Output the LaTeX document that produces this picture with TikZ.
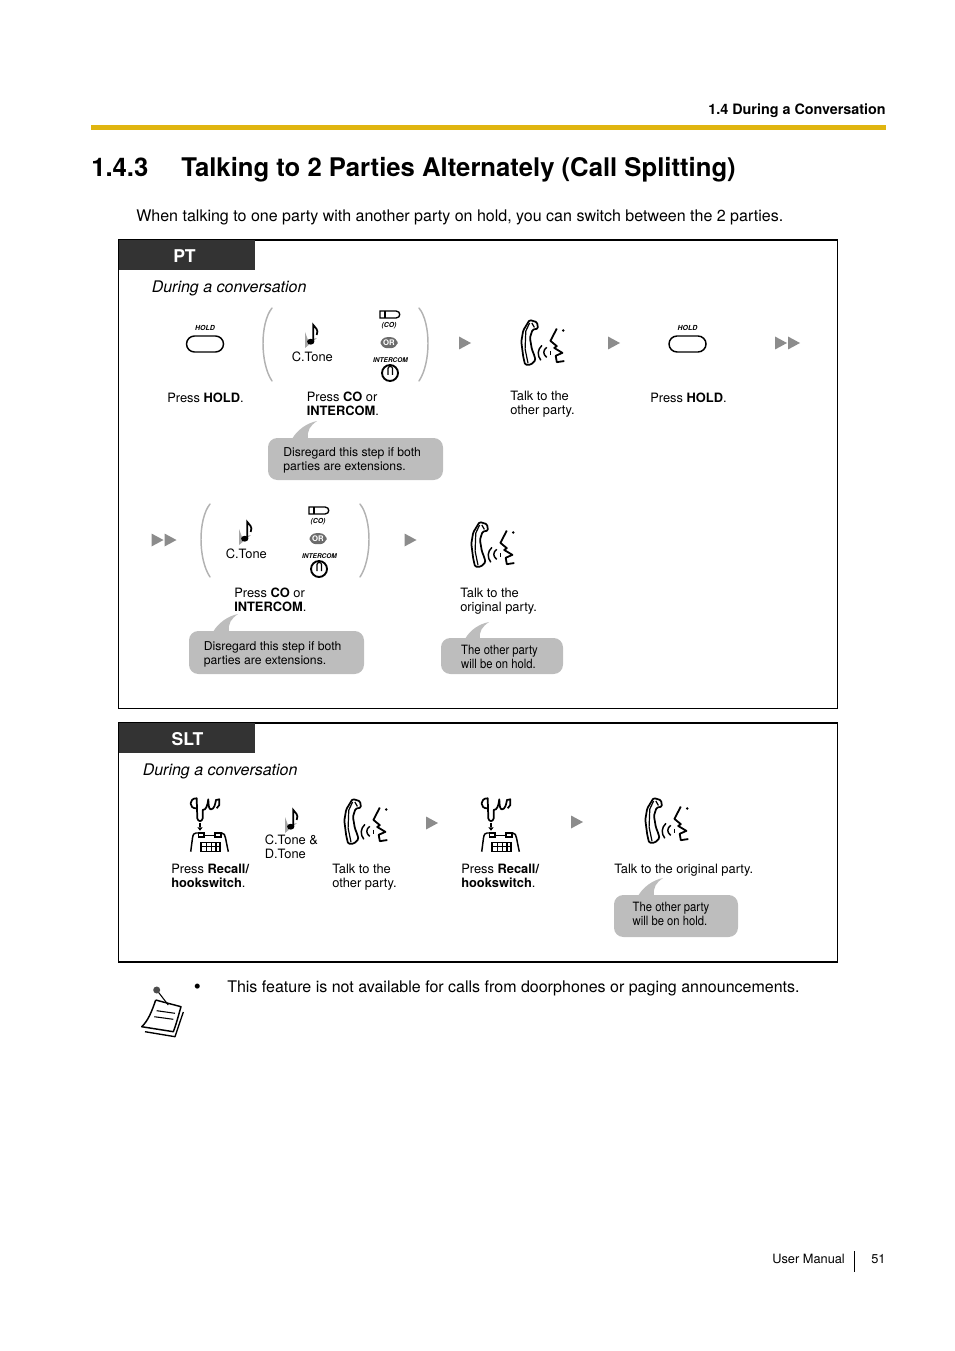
\documentclass[tikz,border=0pt]{standalone}
\usepackage{fontspec}
\setmainfont{TeX Gyre Heros}
\definecolor{rulegold}{HTML}{E0B510}
\definecolor{hdrgray}{HTML}{333333}
\definecolor{bubblegray}{HTML}{BDBDBD}
\definecolor{tipgray}{HTML}{8C8C8C}
\newcommand{\fs}[1]{\fontsize{#1}{#1}\selectfont}
\tikzset{
    lbl/.style={anchor=north west,inner sep=0pt,align=left,yshift=7.35pt,
        font=\fontsize{9.65}{10.5}\selectfont,execute at begin node=\strut},
    txt/.style={anchor=base west,inner sep=0pt},
    note/.style={anchor=north west,inner sep=0pt,align=left,yshift=7.35pt,
        font=\fontsize{9.15}{10.5}\selectfont,execute at begin node=\strut},
    notenarrow/.style={note,xscale=0.88,font=\fontsize{9.6}{10.5}\selectfont},
    keyicon/.style={line width=1.1pt,black},
    % Steps
    pics/holdkey/.style={code={
        \node[inner sep=0pt,font=\fs{5.2}\bfseries\itshape] (holdtag) at (0,-16) {HOLD};
        \draw[keyicon,rounded corners=6pt] (-18.5,-8) rectangle (18.5,8);
    }},
    pics/tip/.style={code={
        \fill[tipgray] (-6,-6.5) -- (6,0) -- (-6,6.5) -- cycle;
    }},
    pics/dtip/.style={code={
        \fill[tipgray] (-12.5,-6.5) -- (-0.5,0) -- (-12.5,6.5) -- cycle;
        \fill[tipgray] (0.5,-6.5) -- (12.5,0) -- (0.5,6.5) -- cycle;
    }},
    pics/tone/.style={code={
        \fill[gray!70] (-7,-3) -- (-4,5) -- (5,3) -- (-7,13) -- cycle;
        \draw[line width=1.3pt] (1.3,6.7) -- (1.3,-10) .. controls (3,-7) and (7,-6) .. (4.7,0);
        \fill (-1.3,6.7) ellipse (3.6 and 2.9);
    }},
    pics/lines/.style={code={
        \draw[line width=1.1pt,gray!60,line cap=round] (0,-37) .. controls (-12,-22) and (-12,18) .. (0,36);
    }},
    pics/linesr/.style={code={
        \draw[line width=1.1pt,gray!60,line cap=round] (0,-37) .. controls (12,-22) and (12,18) .. (0,36);
    }},
    pics/cokey/.style={code={
        \draw[keyicon,line width=1pt] (-9,-31) -- (7,-31) .. controls (12,-31) and (12,-24) .. (7,-24) -- (-9,-24) -- cycle;
        \draw[line width=0.8pt] (-4,-31) -- (-4,-24);
        \node[inner sep=0pt,font=\fs{5.2}\itshape\bfseries] (cotag) at (0,-16) {(CO)};
        \fill[gray!85!black,rounded corners=5pt] (-8.5,-4.8) rectangle (8.5,6.2);
        \node[inner sep=0pt,font=\fs{5.8}\bfseries,text=white] (ortag) at (0,0.8) {OR};
        \node[inner sep=0pt,font=\fs{4.9}\bfseries\itshape] (intag) at (1.5,18) {INTERCOM};
        \draw[line width=1.4pt] (1,31) circle (8);
        \draw[line width=0.9pt,rounded corners=1.5pt] (-1,33) -- (-1,24.5) -- (3.5,24.5) -- (3.5,33);
    }},
    pics/talk/.style={code={
        \begin{scope}[scale=1.12]
        \draw[line width=1.3pt,line join=round,rounded corners=1pt] (-9.3,-19.7) -- (-2.7,-17.7) -- (-1.7,-12) -- (-6.7,-11)
            -- (-9,-3.7) -- (-7.3,6.3) -- (-5,12.3) -- (-4,16.3) -- (-8.3,20.3) -- (-13.3,20.3)
            -- (-15,13) -- (-16.7,-0.3) -- (-15,-10.3) -- cycle;
        \draw[line width=0.9pt] (-9.3,-17) -- (-12.7,-9.7) -- (-13.3,6.3) -- (-10.7,19);
        \draw[line width=0.9pt] (-7.3,-17) -- (-5,-13);
        \draw[line width=1.35pt,line join=round] (15,-12) -- (9.3,-1) -- (15,3.7) -- (12.7,5.3)
            -- (20,9.7) -- (14,12.3) -- (15,18) -- (21.7,17);
        \fill (20.7,-10.3) circle (1.2);
        \draw[line width=1.1pt] (1.7,3) .. controls (-2.5,7) and (-2.5,12) .. (0.7,16.3);
        \draw[line width=1.1pt] (6,4.7) .. controls (2.5,7.5) and (2.5,11) .. (6,13.7);
        \draw[line width=1.1pt] (9.3,8) -- (9.3,11.3);
        \end{scope}
    }},
    pics/hook/.style={code={
        \draw[line width=1.3pt,line join=round] (-3.3,-19.7) .. controls (-11.5,-19) and (-11.5,-30) .. (-3.3,-29.7)
            -- (-2.7,-9.7) .. controls (-2,-6) and (2,-6) .. (2.7,-9.7) -- (2.7,-18)
            .. controls (6,-18) and (7.5,-22) .. (8.3,-28.7) .. controls (8.5,-22) and (9,-18.7) .. (11,-18.7)
            .. controls (14,-18.7) and (15,-23) .. (16,-28) -- (19.3,-28.7) -- (19.3,-23) -- (16.7,-19.7);
        \draw[line width=1.2pt] (0,-5.3) -- (0,-0.7);
        \fill (-2.7,-0.7) -- (2.7,-0.7) -- (0,2.7) -- cycle;
        \draw[line width=1.1pt,line join=round] (-9.3,23.7) -- (-7.5,10) .. controls (-7,6.5) and (-6,5) .. (-4,5) -- (4,5);
        \draw[line width=1.1pt,line join=round] (15,5) -- (21.7,5) .. controls (24,5) and (25,7) .. (25.5,10) -- (28.3,23.7);
        \draw[line width=1.1pt] (-1.7,5) rectangle (4,9) (4,7.5) -- (15,7.5) (15,5) rectangle (21,9);
        \draw[line width=0.8pt] (1,14.7) rectangle (20,23.7) (1,18.7) -- (20,18.7)
            (6.7,14.7) -- (6.7,23.7) (11.7,14.7) -- (11.7,23.7) (16,14.7) -- (16,23.7);
    }},
}
% Grey note with its tail: left, top, right, bottom, tail x, tail y
\newcommand{\bubble}[6]{
    \fill[bubblegray,rounded corners=7pt] (#1,#2) rectangle (#3,#4);
    \fill[bubblegray] (#1+24,#2+1) .. controls (#1+29,#2-8) and (#5-10,#6+2) .. (#5,#6)
        .. controls (#5-7,#6+5) and (#5-10,#6+9) .. (#5-9,#2+1) -- cycle;
}

\begin{document}
\begin{tikzpicture}[x=0.75pt,y=-0.75pt]
    \useasboundingbox (0,0) rectangle (954,1351);

    % Page head
    \node[txt,anchor=base east,font=\fs{10.76}\bfseries] (sectionhead) at (886,114.5) {1.4 During a Conversation};
    \fill[rulegold] (91,125) rectangle (886,130);
    \node[txt,font=\fs{19.26}\bfseries] (titlenum) at (91,176.7) {1.4.3};
    \node[txt,font=\fs{19.26}\bfseries] (titletext) at (181,176.7) {Talking to 2 Parties Alternately (Call Splitting)};
    \node[txt,font=\fs{12.02}] (intro) at (136,222) {When talking to one party with another party on hold, you can switch between the 2 parties.};

    % PT frame
    \draw[line width=1.1pt] (118.5,240) rectangle (837.5,708.5);
    \fill[hdrgray] (119,240) rectangle (255,270);
    \node[font=\fs{13.2}\bfseries,text=white,inner sep=0pt] (pttag) at (184.5,256) {PT};
    \node[txt,font=\fs{12}\itshape] (ptduring) at (151.5,292.5) {During a conversation};

    % First row
    \pic at (205,344) {holdkey};
    \node[lbl] (presshold) at (167,402) {Press \textbf{HOLD}.};
    \pic at (272,345) {lines};
    \pic at (312,335) {tone};
    \node[txt,font=\fs{9.65}] (ctone) at (291.5,361.5) {C.Tone};
    \pic at (389,342) {cokey};
    \pic at (419,345) {linesr};
    \node[lbl] (pressco) at (306.5,401.5) {Press \textbf{CO} or\\\textbf{INTERCOM}.};
    \bubble{268}{438}{443}{480}{317}{421}
    \node[note] (skip) at (283,457) {Disregard this step if both\\parties are extensions.};
    \pic at (465,343) {tip};
    \pic at (540,342) {talk};
    \node[lbl] (talkother) at (510,400.7) {Talk to the\\other party.};
    \pic at (614,343) {tip};
    \pic at (687.5,344) {holdkey};
    \node[lbl] (pressholdtwo) at (650,402) {Press \textbf{HOLD}.};
    \pic at (787.5,343) {dtip};

    % Second row
    \pic at (164,540) {dtip};
    \pic at (210,541) {lines};
    \pic at (246,532) {tone};
    \node[txt,font=\fs{9.65}] (ctonetwo) at (225.5,558) {C.Tone};
    \pic at (318,538) {cokey};
    \pic at (360,541) {linesr};
    \node[lbl] (presscotwo) at (234,597.5) {Press \textbf{CO} or\\\textbf{INTERCOM}.};
    \bubble{189}{631}{364}{674}{238}{614}
    \node[note] (skiptwo) at (203.5,651) {Disregard this step if both\\parties are extensions.};
    \pic at (410.5,540) {tip};
    \pic at (490,544) {talk};
    \node[lbl] (talkorig) at (460,598) {Talk to the\\original party.};
    \bubble{441}{638}{563}{674}{489}{622}
    \node[notenarrow] (hold) at (461,655) {The other party\\will be on hold.};

    % SLT frame
    \draw[line width=1.1pt] (118.5,723) rectangle (837.5,962);
    \fill[hdrgray] (119,723) rectangle (255,753);
    \node[font=\fs{13.2}\bfseries,text=white,inner sep=0pt] (slttag) at (187.5,739) {SLT};
    \node[txt,font=\fs{12}\itshape] (sltduring) at (142.5,775.5) {During a conversation};

    \pic at (200,828) {hook};
    \node[lbl] (recall) at (171,873.5) {Press \textbf{Recall/}\\\textbf{hookswitch}.};
    \pic at (292,820) {tone};
    \node[lbl] (ctones) at (264.5,844) {C.Tone \&\\D.Tone};
    \pic at (363,821) {talk};
    \node[lbl] (talkslt) at (332,873.5) {Talk to the\\other party.};
    \pic at (432,823) {tip};
    \pic at (491,828) {hook};
    \node[lbl] (recalltwo) at (461,873.5) {Press \textbf{Recall/}\\\textbf{hookswitch}.};
    \pic at (577,822) {tip};
    \pic at (664,820) {talk};
    \node[lbl] (talksltorig) at (614,873.5) {Talk to the original party.};
    \bubble{614}{895}{738}{937}{663}{878}
    \node[notenarrow] (holdtwo) at (632.5,912) {The other party\\will be on hold.};

    % Note
    \draw[line width=1pt,line join=round,fill=white] (145,1031.7) -- (175,1036.7) -- (183.3,1012);
    \draw[line width=1.1pt,line join=round,fill=white] (155.7,1000) -- (181,1006.7) .. controls (178,1017) and (176,1025) .. (173.3,1031.7)
        -- (141.7,1026.7) .. controls (148,1021) and (152,1011) .. (155.7,1000);
    \draw[line width=0.8pt] (156.7,1010.7) -- (175,1013.3) (154.3,1016.7) -- (173.3,1019.3);
    \draw[line width=0.8pt] (156.7,990) -- (168.3,1005);
    \fill[gray!60!black] (156.7,990) circle (3.5);
    \node[txt,font=\fs{15}] (bullet) at (193.7,993) {•};
    \node[txt,font=\fs{12}] (remark) at (227,992.5) {This feature is not available for calls from doorphones or paging announcements.};

    % Foot
    \node[txt,font=\fs{9.6}] (footman) at (772,1263) {User Manual};
    \draw[line width=0.7pt] (854.5,1251) -- (854.5,1272);
    \node[txt,font=\fs{9.6}] (footpage) at (871,1263) {51};
\end{tikzpicture}
\end{document}
